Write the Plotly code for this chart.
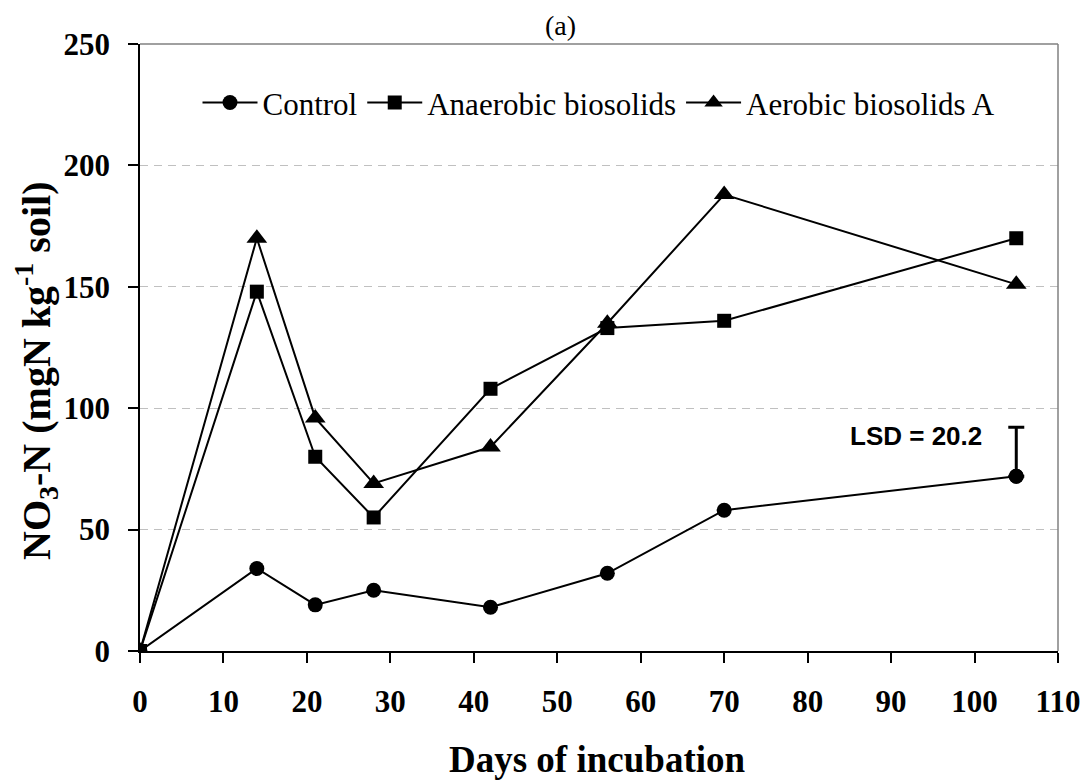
import plotly.graph_objects as go

days = [0, 14, 21, 28, 42, 56, 70, 105]
control = [0, 34, 19, 25, 18, 32, 58, 72]
anaerobic = [0, 148, 80, 55, 108, 133, 136, 170]
aerobic = [0, 170, 96, 69, 84, 135, 188, 151]
lsd = 20.2

series_names = ["Control", "Anaerobic biosolids", "Aerobic biosolids A"]
x_ticks = list(range(0, 111, 10))
y_ticks = list(range(0, 251, 50))

SERIF = "Liberation Serif, Times New Roman, serif"
SANS = "Liberation Sans, Arial, sans-serif"

fig = go.Figure()
fig.add_trace(go.Scatter(x=days, y=control, name=series_names[0], mode="lines+markers",
                         line=dict(color="black", width=2),
                         marker=dict(symbol="circle", size=15, color="black")))
fig.add_trace(go.Scatter(x=days, y=anaerobic, name=series_names[1], mode="lines+markers",
                         line=dict(color="black", width=2),
                         marker=dict(symbol="square", size=14, color="black")))
fig.add_trace(go.Scatter(x=days, y=aerobic, name=series_names[2], mode="lines+markers",
                         line=dict(color="black", width=2),
                         marker=dict(symbol="triangle-up", size=18, color="black")))
# LSD bar on last control point
fig.add_trace(go.Scatter(x=[days[-1]], y=[control[-1]], mode="markers", showlegend=False,
                         marker=dict(symbol="circle", size=15, color="black"),
                         error_y=dict(type="data", symmetric=False, array=[lsd], arrayminus=[0],
                                      color="black", thickness=3, width=8)))

fig.update_layout(
    width=1092, height=783,
    paper_bgcolor="white", plot_bgcolor="white",
    margin=dict(l=139.5, r=30.5, t=44, b=132),
    showlegend=True,
    legend=dict(orientation="h", x=0.5, xanchor="center", y=0.903, yanchor="middle",
                font=dict(family=SERIF, size=31, color="black"),
                bgcolor="rgba(0,0,0,0)", itemwidth=55, tracegroupgap=0),
    xaxis=dict(range=[0, 110], tickvals=x_ticks, ticktext=[str(v) for v in x_ticks],
               showgrid=False, zeroline=False, showline=True, linecolor="black", linewidth=1.5,
               ticks="outside", ticklen=10, tickwidth=1.5, tickcolor="black",
               ticklabelstandoff=12,
               tickfont=dict(family=SERIF, size=31, color="black", weight="bold")),
    yaxis=dict(range=[0, 250], tickvals=y_ticks, ticktext=[str(v) for v in y_ticks],
               showgrid=True, gridcolor="#c0c0c0", gridwidth=1, griddash="8px,6px",
               zeroline=False, showline=True, linecolor="black", linewidth=1.5,
               ticks="outside", ticklen=10, tickwidth=1.5, tickcolor="black",
               ticklabelstandoff=12,
               tickfont=dict(family=SERIF, size=31, color="black", weight="bold")),
    shapes=[
        dict(type="line", xref="paper", yref="paper", x0=0, x1=1, y0=1, y1=1,
             line=dict(color="#808080", width=1.5)),
        dict(type="line", xref="paper", yref="paper", x0=1, x1=1, y0=0, y1=1,
             line=dict(color="#808080", width=1.5)),
    ],
    annotations=[
        dict(text="(a)", xref="paper", yref="paper", x=(562 - 139.5) / 922, y=1.0, yshift=19,
             xanchor="center", yanchor="middle", showarrow=False,
             font=dict(family=SERIF, size=28, color="black")),
        dict(text="<b>Days of incubation</b>", xref="paper", yref="paper",
             x=(598 - 139.5) / 922, y=(651 - 759) / 607, xanchor="center", yanchor="middle",
             showarrow=False, font=dict(family=SERIF, size=37, color="black")),
        dict(text="<b>NO<sub>3</sub>-N (mgN kg<sup>-1</sup> soil)</b>", xref="paper", yref="paper",
             x=(35 - 139.5) / 922, y=(651 - 371) / 607, xanchor="center", yanchor="middle",
             textangle=-90, showarrow=False, font=dict(family=SERIF, size=40, color="black")),
        dict(text="<b>LSD = 20.2</b>", xref="paper", yref="paper",
             x=(987 - 139.5) / 922, y=(651 - 436) / 607, xanchor="right", yanchor="middle",
             showarrow=False, font=dict(family=SANS, size=26, color="black")),
    ],
)

fig.write_html("out.html")
